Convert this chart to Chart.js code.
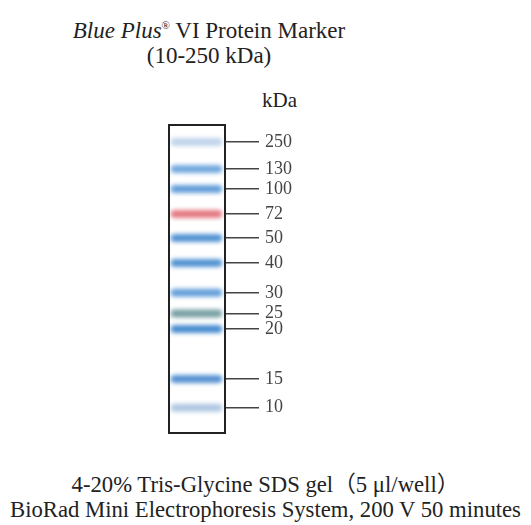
<!DOCTYPE html>
<html>
<head>
<meta charset="utf-8">
<script src="https://cdn.jsdelivr.net/npm/chart.js@4"></script>
<style>
  body { margin: 0; width: 531px; height: 525px; background: #fff; position: relative; overflow: hidden;
         font-family: "Liberation Serif", "Noto Sans CJK SC", serif; color: #222; }
  .txt { position: absolute; text-align: center; white-space: nowrap; }
  #title { left: 0; width: 418px; top: 13px; font-size: 23px; line-height: 25px; }
  #unit { left: 262px; top: 88px; font-size: 21px; }
  #foot { left: 0; width: 531px; top: 472px; font-size: 22.7px; line-height: 25px; }
  #gel { position: absolute; left: 150px; top: 100px; width: 200px; height: 350px; }
</style>
</head>
<body>
<div id="title" class="txt"><i>Blue Plus</i><sup style="font-size:11px">®</sup> VI Protein Marker<br>(10-250 kDa)</div>
<div id="unit" class="txt">kDa</div>
<div id="gel"><canvas id="gelChart"></canvas></div>
<div id="foot" class="txt">4-20% Tris-Glycine SDS gel（5 μl/well）<br>BioRad Mini Electrophoresis System, 200 V 50 minutes</div>

<script>
// Marker sizes (kDa) and relative migration (0 = well, 1 = bottom of gel)
const markerKDa = [250, 130, 100, 72, 50, 40, 30, 25, 20, 15, 10];
const migration = [0.055, 0.143, 0.208, 0.289, 0.367, 0.448, 0.545, 0.612, 0.662, 0.825, 0.918];
const bandColors = ['rgba(130,170,215,0.5)', '#72a8de', '#639fd9', '#e47a82', '#5393d3', '#5393d3',
                    '#66a0da', '#78a0a4', '#4a8dd0', '#5592d1', '#b0c8e3'];

// lane spans from 0 to 1 across the gel box
const laneStart = 0.1, laneEnd = 0.88;

let datasets = markerKDa.map(function (kda, i) {
    return {
        label: kda + ' kDa',
        data: [{ x: laneStart, y: migration[i] }, { x: laneEnd, y: migration[i] }],
        borderColor: bandColors[i],
        borderWidth: 8,
        borderCapStyle: 'round',
        pointRadius: 0,
        fill: false
    };
});

// soft edges on the bands
const blurBands = {
    id: 'blurBands',
    beforeDatasetsDraw(chart) {
        chart.ctx.save();
        chart.ctx.filter = 'blur(2px)';
    },
    afterDatasetsDraw(chart) {
        chart.ctx.restore();
    }
};

// box around the gel
const gelFrame = {
    id: 'gelFrame',
    afterDraw(chart) {
        const a = chart.chartArea, ctx = chart.ctx;
        ctx.save();
        ctx.strokeStyle = '#222';
        ctx.lineWidth = 2;
        ctx.strokeRect(a.left, a.top, a.right - a.left, a.bottom - a.top);
        ctx.restore();
    }
};

new Chart(document.getElementById('gelChart'), {
    type: 'line',
    data: { datasets: datasets },
    options: {
        responsive: true,
        maintainAspectRatio: false,
        animation: false,
        layout: { padding: { left: 19, top: 25, bottom: 17, right: 25 } },
        plugins: { legend: { display: false }, tooltip: { enabled: false } },
        scales: {
            x: { type: 'linear', min: 0, max: 1, display: false },
            y: {
                type: 'linear',
                position: 'right',
                min: 0,
                max: 1,
                reverse: true,
                afterFit(scale) { scale.width = 100; },
                afterBuildTicks(scale) {
                    scale.ticks = migration.map(function (m) { return { value: m }; });
                },
                border: { display: false },
                grid: { drawOnChartArea: false, drawTicks: true, tickLength: 34, color: '#444', lineWidth: 1.5 },
                ticks: {
                    padding: 6,
                    color: '#444',
                    font: { family: 'Liberation Serif', size: 18 },
                    callback: function (value) {
                        const i = migration.indexOf(value);
                        return i >= 0 ? markerKDa[i] : '';
                    }
                }
            }
        }
    },
    plugins: [blurBands, gelFrame]
});
</script>
</body>
</html>
